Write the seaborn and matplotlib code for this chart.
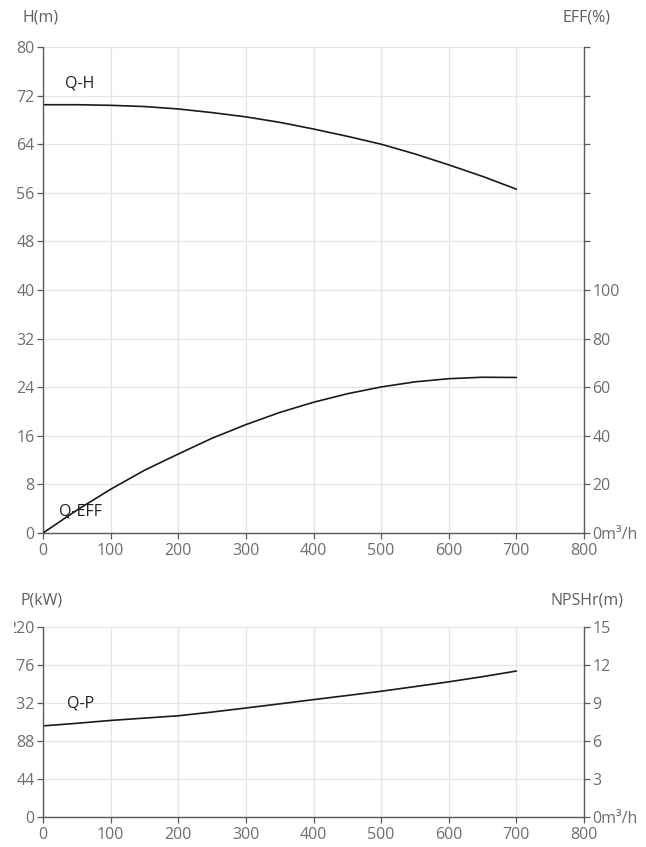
import matplotlib
matplotlib.use("Agg")
import matplotlib.pyplot as plt
import seaborn as sns
import pandas as pd
from matplotlib.transforms import Bbox

# ---- data ----
flow = [0, 50, 100, 150, 200, 250, 300, 350, 400, 450, 500, 550, 600, 650, 700]
head = [70.5, 70.5, 70.4, 70.2, 69.8, 69.2, 68.5, 67.6, 66.5, 65.3, 64.0, 62.4, 60.6, 58.7, 56.6]
eff = [0, 9.4, 18.0, 25.8, 32.5, 39.0, 44.6, 49.6, 53.8, 57.3, 60.1, 62.2, 63.5, 64.1, 64.0]
power = [105.5, 108.5, 111.8, 114.5, 117.2, 121.5, 126.2, 131.0, 135.9, 140.7, 145.6, 151.0, 156.5, 162.5, 169.0]

x_ticks = [0, 100, 200, 300, 400, 500, 600, 700, 800]
h_ticks = [0, 8, 16, 24, 32, 40, 48, 56, 64, 72, 80]
eff_ticks = [0, 20, 40, 60, 80, 100, 120, 140, 160, 180, 200]
eff_labels = ["0m³/h", "20", "40", "60", "80", "100", "", "", "", "", ""]
p_ticks = [0, 44, 88, 132, 176, 220]
npsh_ticks = [0, 3, 6, 9, 12, 15]
npsh_labels = ["0m³/h", "3", "6", "9", "12", "15"]

df = pd.DataFrame({"Q": flow, "H": head, "EFF": eff, "P": power})

sns.set_style("white")
plt.rcParams["font.family"] = ["Open Sans", "DejaVu Sans"]

W, H_ = 646, 847
fig = plt.figure(figsize=(W / 100, H_ / 100), dpi=100)
fig.patch.set_facecolor("white")

def frac(l, r, t, b):
    return [l / W, 1 - b / H_, (r - l) / W, (b - t) / H_]

grid_c = "#e2e4ea"
spine_c = "#5a5a5a"
tick_c = "#6e6e6e"
title_c = "#5f5f5f"
fs = 11.5
lfs = 11.5

def style_axes(ax, twin):
    for s in ["top", "right", "left", "bottom"]:
        ax.spines[s].set_visible(False)
    ax.spines["left"].set_visible(True)
    ax.spines["bottom"].set_visible(True)
    ax.spines["left"].set_color(spine_c)
    ax.spines["bottom"].set_color(spine_c)
    ax.spines["left"].set_linewidth(1.0)
    ax.spines["bottom"].set_linewidth(1.0)
    ax.tick_params(axis="both", direction="out", length=4, width=0.9, color=spine_c,
                   labelcolor=tick_c, labelsize=fs, pad=2)
    ax.tick_params(axis="x", pad=3)
    ax.tick_params(axis="both", left=True, bottom=True)
    ax.grid(True, color=grid_c, linewidth=0.9)
    ax.set_axisbelow(True)
    for s in ["top", "right", "left", "bottom"]:
        twin.spines[s].set_visible(False)
    twin.spines["right"].set_visible(True)
    twin.spines["right"].set_color(spine_c)
    twin.spines["right"].set_linewidth(1.0)
    twin.tick_params(axis="y", direction="out", length=4, width=0.9, color=spine_c,
                     labelcolor=tick_c, labelsize=fs, pad=2, right=True)
    twin.grid(False)

# ---- top chart ----
ax1 = fig.add_axes(frac(43, 584, 47, 533))
ax1b = ax1.twinx()
sns.lineplot(data=df, x="Q", y="H", ax=ax1, color="#1a1a1a", linewidth=1.2)
sns.lineplot(data=df, x="Q", y="EFF", ax=ax1b, color="#1a1a1a", linewidth=1.2)
ax1.set_xlim(0, 800)
ax1.set_ylim(0, 80)
ax1.set_xticks(x_ticks)
ax1.set_yticks(h_ticks)
ax1b.set_ylim(0, 200)
ax1b.set_yticks(eff_ticks)
ax1b.set_yticklabels(eff_labels)
ax1.set_xlabel("")
ax1.set_ylabel("")
ax1b.set_ylabel("")
style_axes(ax1, ax1b)
ax1.text(33, 74, "Q-H", fontsize=lfs, color="#222222", va="center", ha="left")
ax1.text(24, 3.6, "Q-EFF", fontsize=lfs, color="#222222", va="center", ha="left")
fig.text(23 / W, 1 - 17 / H_, "H(m)", fontsize=fs, color=title_c, va="center", ha="left")
fig.text(610 / W, 1 - 17 / H_, "EFF(%)", fontsize=fs, color=title_c, va="center", ha="right")

# ---- bottom chart ----
ax2 = fig.add_axes(frac(43, 584, 627, 817))
ax2b = ax2.twinx()
sns.lineplot(data=df, x="Q", y="P", ax=ax2, color="#1a1a1a", linewidth=1.2)
ax2.set_xlim(0, 800)
ax2.set_ylim(0, 220)
ax2.set_xticks(x_ticks)
ax2.set_yticks(p_ticks)
ax2b.set_ylim(0, 15)
ax2b.set_yticks(npsh_ticks)
ax2b.set_yticklabels(npsh_labels)
ax2.set_xlabel("")
ax2.set_ylabel("")
ax2b.set_ylabel("")
style_axes(ax2, ax2b)
ax2.text(36, 132, "Q-P", fontsize=lfs, color="#222222", va="center", ha="left")
fig.text(20 / W, 1 - 600 / H_, "P(kW)", fontsize=fs, color=title_c, va="center", ha="left")
fig.text(623 / W, 1 - 600 / H_, "NPSHr(m)", fontsize=fs, color=title_c, va="center", ha="right")

# clip bottom-left tick labels like the reference (cut near the left edge)
clip = Bbox.from_extents(14, 0, W, H_)
for t in ax2.yaxis.get_major_ticks():
    t.label1.set_clip_box(clip)
    t.label1.set_clip_on(True)

fig.savefig("out.png", dpi=100, facecolor="white")
